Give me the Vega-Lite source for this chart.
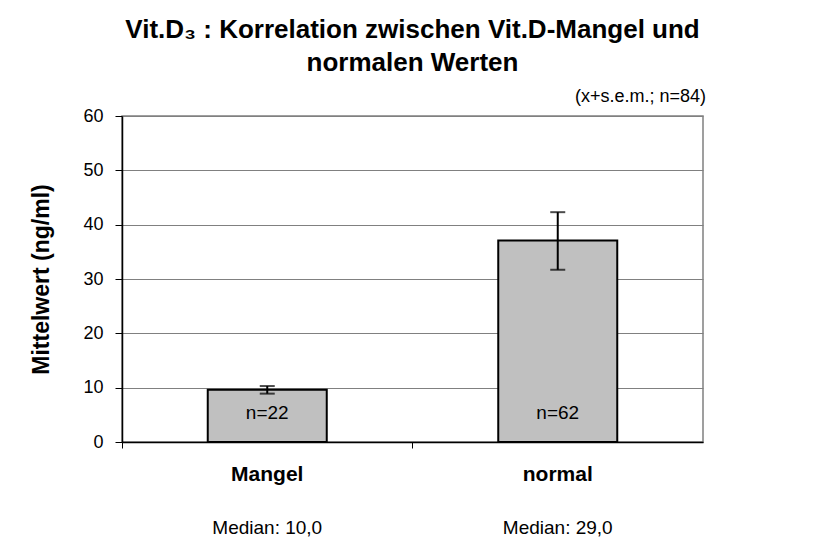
{
  "$schema": "https://vega.github.io/schema/vega-lite/v6.json",
  "width": 581,
  "height": 326,
  "autosize": "none",
  "padding": {"left": 122, "top": 116, "right": 115, "bottom": 115},
  "background": "white",
  "config": {
    "font": "Liberation Sans",
    "view": {"stroke": "#808080", "strokeWidth": 1.5}
  },
  "title": {
    "text": ["Vit.D₃ : Korrelation zwischen Vit.D-Mangel und", "normalen Werten"],
    "font": "Liberation Sans",
    "fontSize": 26,
    "fontWeight": "bold",
    "color": "black",
    "anchor": "middle",
    "lineHeight": 33,
    "offset": 12
  },
  "data": {
    "values": [
      {"gruppe": "Mangel", "mittelwert": 9.6, "unten": 8.9, "oben": 10.3, "n": "n=22", "median": "Median: 10,0"},
      {"gruppe": "normal", "mittelwert": 37.1, "unten": 31.7, "oben": 42.3, "n": "n=62", "median": "Median: 29,0"}
    ]
  },
  "encoding": {
    "x": {
      "field": "gruppe",
      "type": "nominal",
      "sort": null,
      "scale": {"paddingInner": 0, "paddingOuter": 0},
      "axis": {
        "title": null,
        "labelAngle": 0,
        "labelFont": "Liberation Sans",
        "labelFontSize": 21,
        "labelFontWeight": "bold",
        "labelColor": "black",
        "labelPadding": 15,
        "bandPosition": 0,
        "tickSize": 6,
        "tickColor": "black",
        "domainColor": "black",
        "domainWidth": 1.5,
        "grid": false
      }
    }
  },
  "layer": [
    {
      "mark": {"type": "bar", "size": 119, "fill": "#c0c0c0", "stroke": "black", "strokeWidth": 2},
      "encoding": {
        "y": {
          "field": "mittelwert",
          "type": "quantitative",
          "title": "Mittelwert (ng/ml)",
          "scale": {"domain": [0, 60], "nice": false, "zero": true},
          "axis": {
            "values": [0, 10, 20, 30, 40, 50, 60],
            "labelFont": "Liberation Sans",
            "labelFontSize": 18,
            "labelColor": "black",
            "labelPadding": 12,
            "tickSize": 7,
            "tickColor": "black",
            "domainColor": "black",
            "domainWidth": 1.5,
            "gridColor": "#808080",
            "gridWidth": 1.2,
            "titleFont": "Liberation Sans",
            "titleFontSize": 23,
            "titleFontWeight": "bold",
            "titleColor": "black",
            "titlePadding": 29
          }
        }
      }
    },
    {
      "mark": {"type": "errorbar", "color": "black", "thickness": 2, "ticks": {"size": 15, "thickness": 2, "color": "black"}},
      "encoding": {
        "y": {"field": "unten", "type": "quantitative", "title": "Mittelwert (ng/ml)"},
        "y2": {"field": "oben"}
      }
    },
    {
      "mark": {"type": "text", "font": "Liberation Sans", "fontSize": 19, "color": "black", "baseline": "middle"},
      "encoding": {
        "y": {"datum": 5.3, "type": "quantitative"},
        "text": {"field": "n"}
      }
    },
    {
      "mark": {"type": "text", "font": "Liberation Sans", "fontSize": 19, "color": "black", "baseline": "middle"},
      "encoding": {
        "y": {"datum": -15.8, "type": "quantitative"},
        "text": {"field": "median"}
      }
    },
    {
      "data": {"values": [{"hinweis": "(x+s.e.m.; n=84)"}]},
      "mark": {"type": "text", "font": "Liberation Sans", "fontSize": 18, "color": "black", "baseline": "middle", "align": "right", "dx": 3},
      "encoding": {
        "x": {"value": "width"},
        "y": {"datum": 63.5, "type": "quantitative"},
        "text": {"field": "hinweis"}
      }
    }
  ]
}
